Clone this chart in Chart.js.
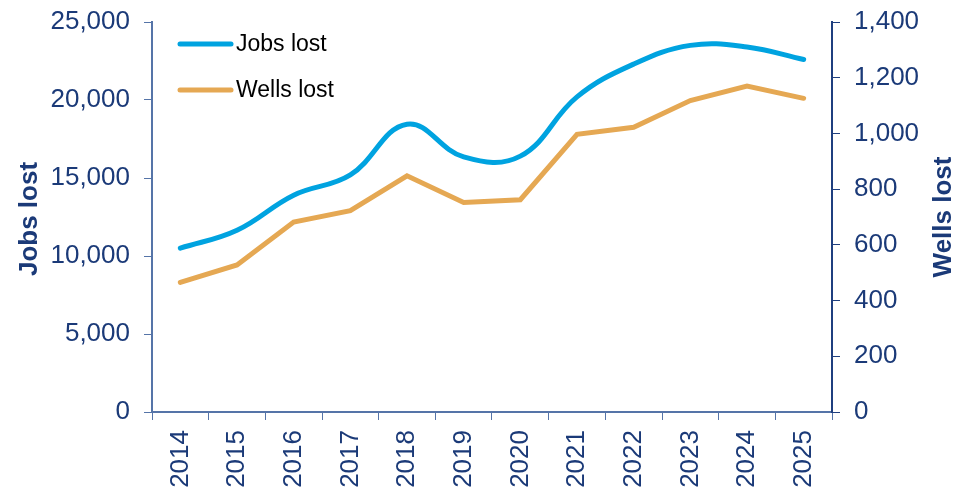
<!DOCTYPE html>
<html>
<head>
<meta charset="utf-8">
<script src="https://cdn.jsdelivr.net/npm/chart.js@4.4.1/dist/chart.umd.min.js"></script>
<style>
  html, body { margin: 0; padding: 0; background: #ffffff; }
  #wrap { width: 957px; height: 488px; position: relative; }
</style>
</head>
<body>
<div id="wrap"><canvas id="chartJobs" width="957" height="488"></canvas></div>
<script>
const years = ["2014", "2015", "2016", "2017", "2018", "2019", "2020", "2021", "2022", "2023", "2024", "2025"];
const jobsLost = [10500, 11650, 13900, 15200, 18450, 16350, 16400, 20200, 22300, 23500, 23400, 22600];
const wellsLost = [465, 528, 682, 723, 848, 752, 762, 997, 1022, 1118, 1170, 1126];

const navy = "#1B3A78";
const fontName = "'Liberation Sans', Arial, sans-serif";

// axis titles + legend drawn on the canvas
const extras = {
  id: "extras",
  afterDraw(chart) {
    const ctx = chart.ctx;
    const area = chart.chartArea;
    const midY = (area.top + area.bottom) / 2;

    ctx.save();
    ctx.fillStyle = navy;
    ctx.font = "bold 26px " + fontName;
    ctx.textAlign = "center";
    ctx.textBaseline = "middle";

    ctx.save();
    ctx.translate(30, midY + 2);
    ctx.rotate(-Math.PI / 2);
    ctx.fillText("Jobs lost", 0, 0);
    ctx.restore();

    ctx.save();
    ctx.translate(944, midY);
    ctx.rotate(-Math.PI / 2);
    ctx.fillText("Wells lost", 0, 0);
    ctx.restore();

    // legend
    const ds = chart.data.datasets;
    ctx.font = "23px " + fontName;
    ctx.textAlign = "left";
    ctx.fillStyle = "#000000";
    ctx.lineCap = "round";
    for (let i = 0; i < ds.length; i++) {
      const y = 44 + i * 46;
      ctx.strokeStyle = ds[i].borderColor;
      ctx.lineWidth = 5;
      ctx.beginPath();
      ctx.moveTo(180, y);
      ctx.lineTo(231, y);
      ctx.stroke();
      ctx.fillText(ds[i].label, 236, y + 1);
    }
    ctx.restore();
  }
};

function fixY(width) {
  return function (scale) {
    scale.width = width;
    scale.paddingTop = 0;
    scale.paddingBottom = 0;
  };
}

const ctx = document.getElementById("chartJobs").getContext("2d");

new Chart(ctx, {
  type: "line",
  data: {
    labels: years,
    datasets: [
      {
        label: "Jobs lost",
        data: jobsLost,
        yAxisID: "y",
        borderColor: "#00A3E0",
        borderWidth: 5,
        tension: 0.4,
        pointRadius: 0,
        borderCapStyle: "round",
        fill: false
      },
      {
        label: "Wells lost",
        data: wellsLost,
        yAxisID: "y1",
        borderColor: "#E5A853",
        borderWidth: 5,
        tension: 0,
        pointRadius: 0,
        borderCapStyle: "round",
        fill: false
      }
    ]
  },
  options: {
    responsive: false,
    animation: false,
    layout: { padding: { top: 22, left: 0, right: 0, bottom: 0 } },
    plugins: {
      legend: { display: false },
      tooltip: { enabled: false }
    },
    scales: {
      x: {
        offset: true,
        grid: {
          offset: true,
          drawOnChartArea: false,
          drawTicks: true,
          tickLength: 8,
          color: "#5574A8"
        },
        border: { color: "#5574A8", width: 2 },
        ticks: {
          color: navy,
          font: { family: fontName, size: 26 },
          minRotation: 90,
          maxRotation: 90,
          padding: 10,
          autoSkip: false
        },
        afterFit: function (scale) {
          scale.height = 76;
          scale.paddingLeft = 0;
          scale.paddingRight = 0;
        }
      },
      y: {
        position: "left",
        min: 0,
        max: 25000,
        grid: {
          drawOnChartArea: false,
          tickLength: 8,
          color: "#5574A8"
        },
        border: { color: "#5574A8", width: 2 },
        ticks: {
          stepSize: 5000,
          color: navy,
          font: { family: fontName, size: 26 },
          padding: 14,
          callback: function (v) { return v.toLocaleString("en-US"); }
        },
        afterFit: fixY(152)
      },
      y1: {
        position: "right",
        min: 0,
        max: 1400,
        grid: {
          drawOnChartArea: false,
          tickLength: 8,
          color: "#1F3F7F"
        },
        border: { color: "#1F3F7F", width: 2 },
        ticks: {
          stepSize: 200,
          color: navy,
          font: { family: fontName, size: 26 },
          padding: 14,
          callback: function (v) { return v.toLocaleString("en-US"); }
        },
        afterFit: fixY(125)
      }
    }
  },
  plugins: [extras]
});
</script>
</body>
</html>
